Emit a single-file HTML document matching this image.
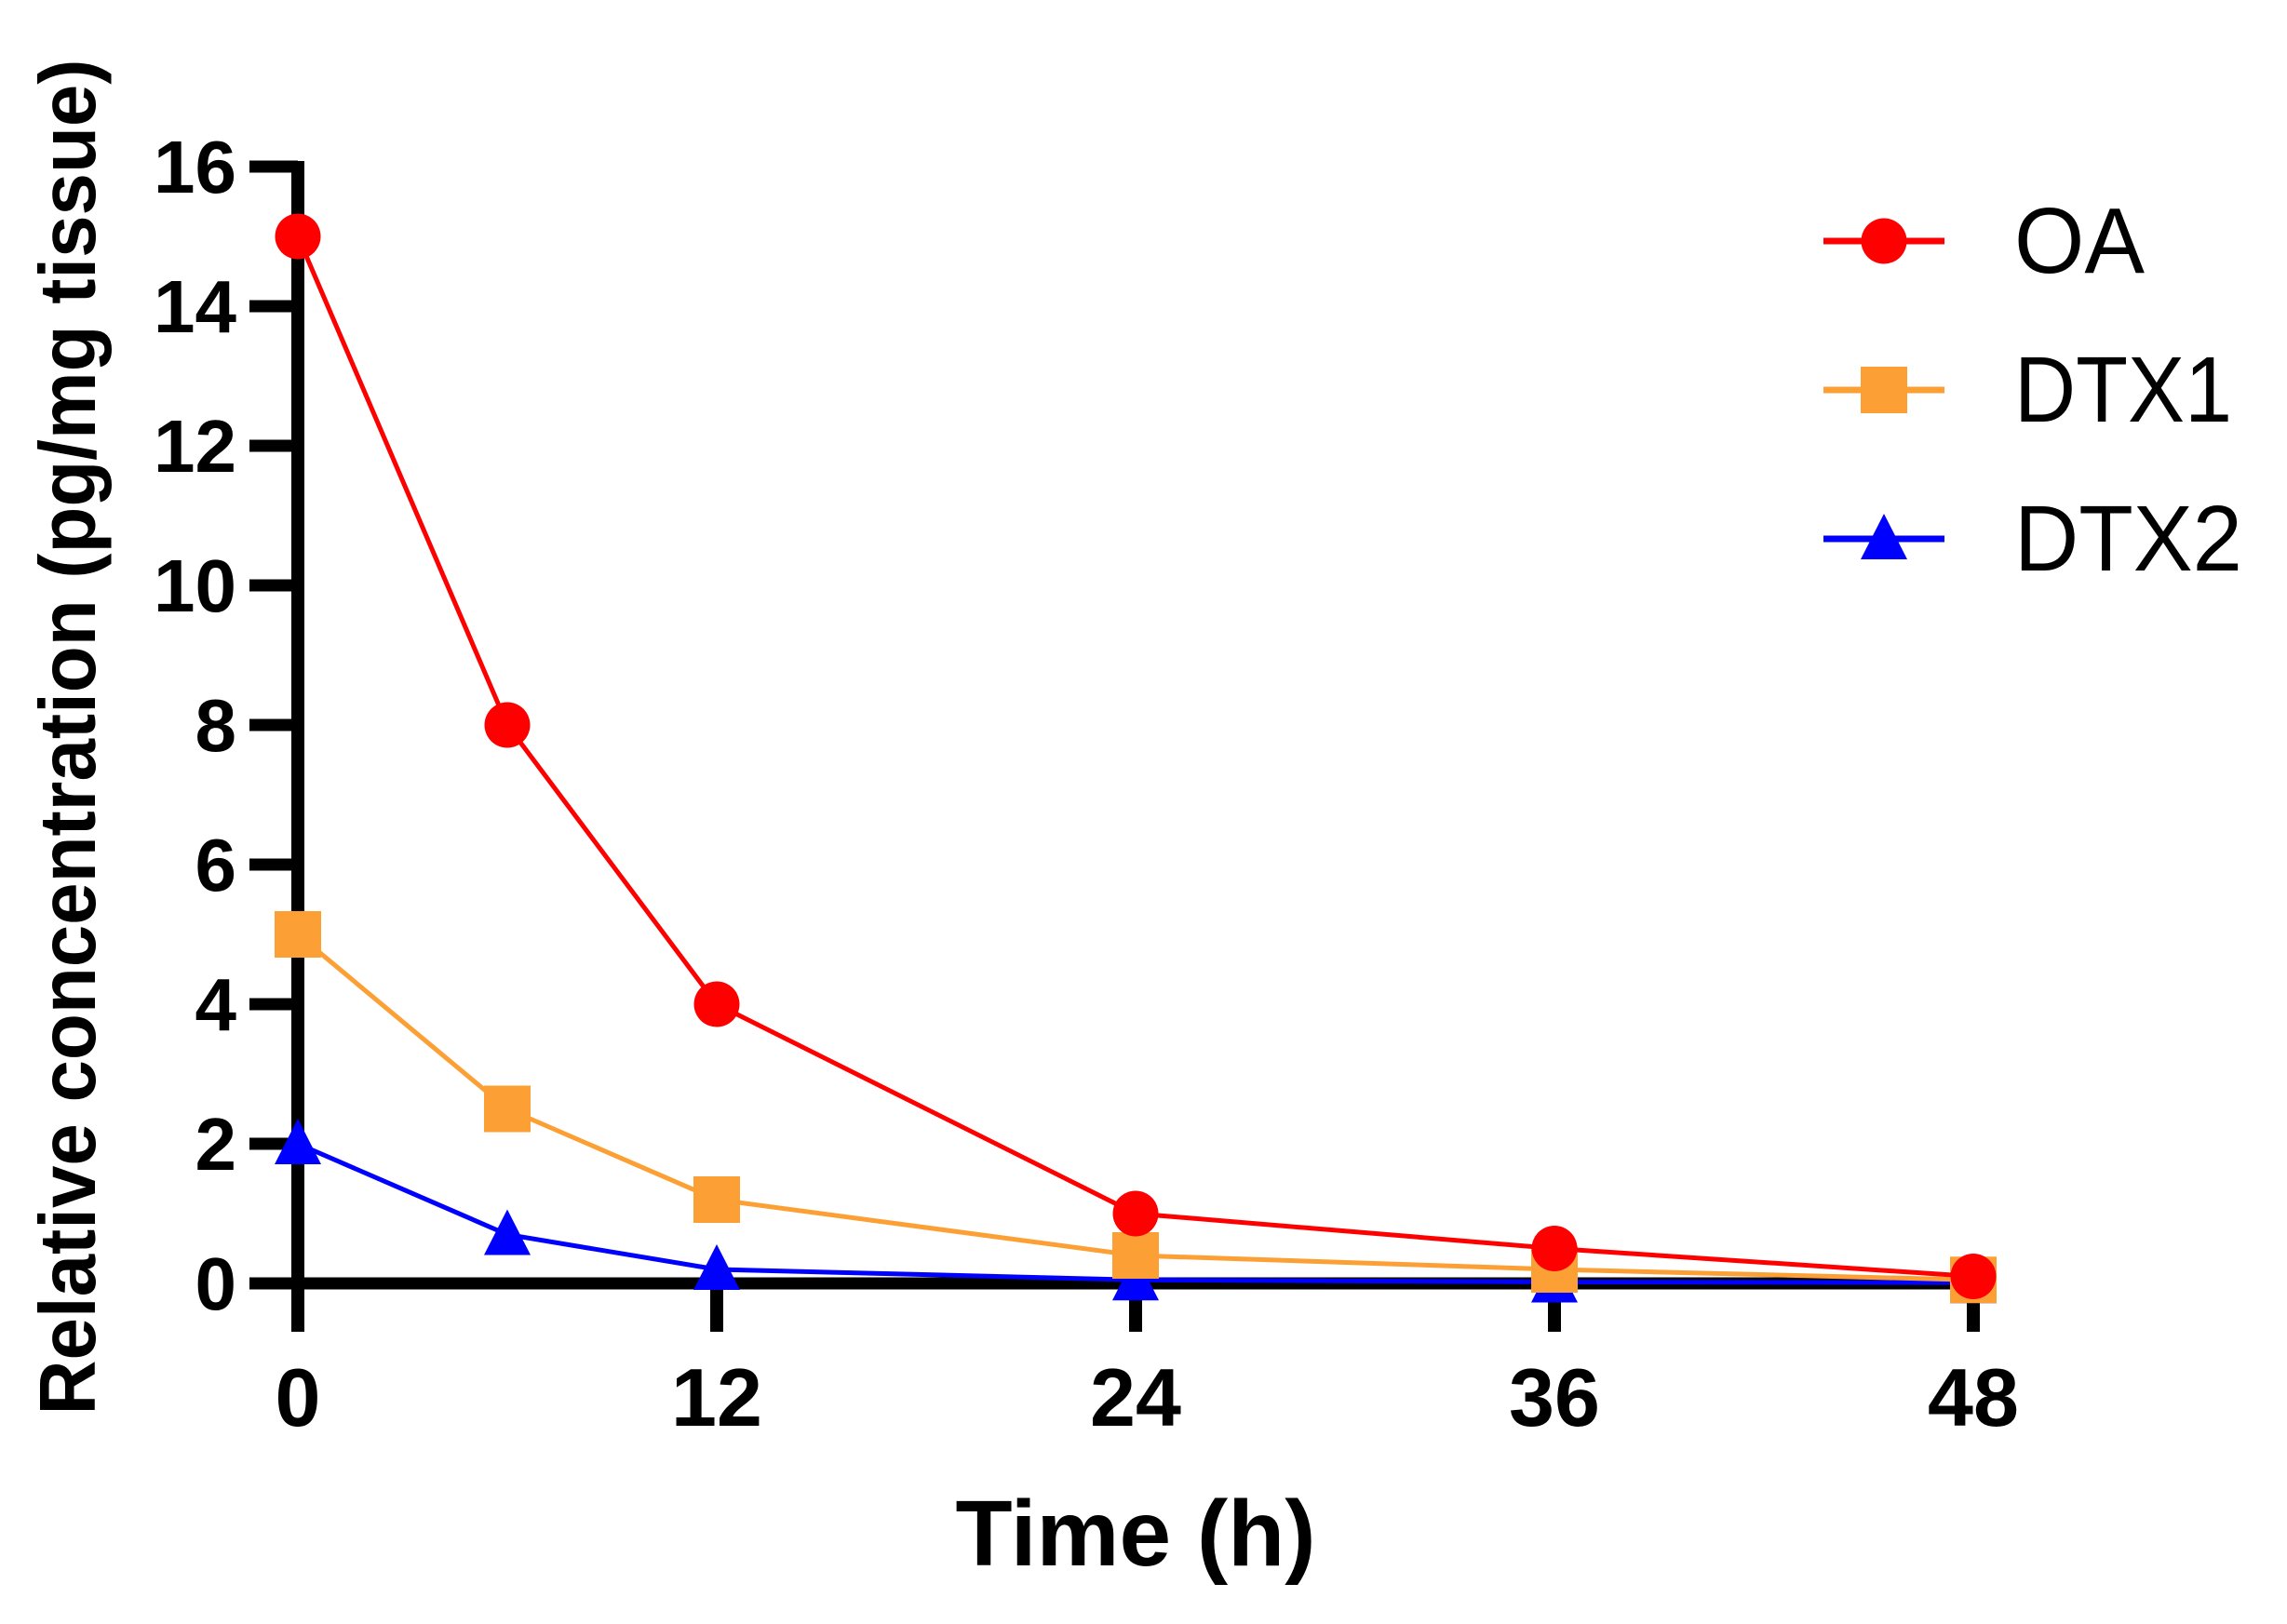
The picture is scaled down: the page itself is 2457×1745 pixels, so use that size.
<!DOCTYPE html>
<html><head><meta charset="utf-8"><style>html,body{margin:0;padding:0;background:#fff}svg{display:block}</style></head>
<body>
<svg id="chart" width="2457" height="1745" viewBox="0 0 2457 1745" xmlns="http://www.w3.org/2000/svg" font-family="'Liberation Sans', sans-serif">
<g id="axes"></g>
<g id="series"></g>
<g id="legend"></g>
<text x="1220" y="1682" text-anchor="middle" font-size="100" font-weight="bold">Time (h)</text>
<text transform="translate(102,792) rotate(-90)" text-anchor="middle" font-size="85" font-weight="bold" textLength="1457" lengthAdjust="spacingAndGlyphs">Relative concentration (pg/mg tissue)</text>
</svg>
<script>
const times = [0, 6, 12, 24, 36, 48];
const oaValues = [15, 8, 4, 1, 0.5, 0.1];
const dtx1Values = [5, 2.5, 1.2, 0.4, 0.2, 0.05];
const dtx2Values = [2, 0.7, 0.2, 0.05, 0.02, 0.01];
const xTicks = [0, 12, 24, 36, 48];
const yTicks = [0, 2, 4, 6, 8, 10, 12, 14, 16];
const seriesNames = ["OA", "DTX1", "DTX2"];

const NS = "http://www.w3.org/2000/svg";
const X = t => 320 + t * 37.5;
const Y = v => 1379 - v * 75;
function mk(tag, attrs, parent) {
  const e = document.createElementNS(NS, tag);
  for (const k in attrs) e.setAttribute(k, attrs[k]);
  parent.appendChild(e);
  return e;
}
const axes = document.getElementById('axes');
let el;
el = mk('line', {x1: X(0), y1: Y(16) - 6, x2: X(0), y2: 1431, stroke: '#000', 'stroke-width': 14}, axes);


el = mk('line', {x1: 268, y1: Y(0), x2: X(48) + 7, y2: Y(0), stroke: '#000', 'stroke-width': 13}, axes);


yTicks.forEach(v => {
  let t = mk('line', {x1: 268, y1: Y(v), x2: X(0), y2: Y(v), stroke: '#000', 'stroke-width': 13}, axes);
  
  
  let l = mk('text', {x: 254, y: Y(v) + 28, 'text-anchor': 'end', 'font-size': 80, 'font-weight': 'bold'}, axes);
  l.textContent = v;
  
  
});
xTicks.forEach(v => {
  let t = mk('line', {x1: X(v), y1: Y(0), x2: X(v), y2: 1431, stroke: '#000', 'stroke-width': 14}, axes);
  
  
  let l = mk('text', {x: X(v), y: 1532, 'text-anchor': 'middle', 'font-size': 88, 'font-weight': 'bold'}, axes);
  l.textContent = v;
  
  
});

const colors = ['#ff0000', '#fca035', '#0000ff'];
const shapes = ['circle', 'square', 'triangle'];
const allValues = [oaValues, dtx1Values, dtx2Values];
function marker(shape, cx, cy, color, parent) {
  let m;
  if (shape === 'circle') m = mk('circle', {cx: cx, cy: cy, r: 24.5, fill: color}, parent);
  else if (shape === 'square') m = mk('rect', {x: cx - 25, y: cy - 25, width: 50, height: 50, fill: color}, parent);
  else m = mk('polygon', {points: `${cx},${cy - 27} ${cx + 25},${cy + 22} ${cx - 25},${cy + 22}`, fill: color}, parent);
  return m;
}
const seriesG = document.getElementById('series');
[2, 1, 0].forEach(i => {
  const g = mk('g', {}, seriesG);
  
  
  const pts = times.map((t, j) => X(t) + ',' + Y(allValues[i][j])).join(' ');
  const pl = mk('polyline', {points: pts, fill: 'none', stroke: colors[i], 'stroke-width': 5}, g);
  
  
  times.forEach((t, j) => {
    const m = marker(shapes[i], X(t), Y(allValues[i][j]), colors[i], g);
    
    
  });
});

const legend = document.getElementById('legend');
const legY = [259, 419, 579];
const legW = [140, 234, 245];
seriesNames.forEach((n, i) => {
  const g = mk('g', {}, legend);
  
  
  mk('line', {x1: 1959, y1: legY[i], x2: 2089, y2: legY[i], stroke: colors[i], 'stroke-width': 7}, g);
  marker(shapes[i], 2024, legY[i], colors[i], g);
  const t = mk('text', {x: 2164, y: legY[i] + 34, 'font-size': 100, textLength: legW[i], lengthAdjust: 'spacingAndGlyphs'}, g);
  t.textContent = n;
  
  
});
</script>
</body></html>
